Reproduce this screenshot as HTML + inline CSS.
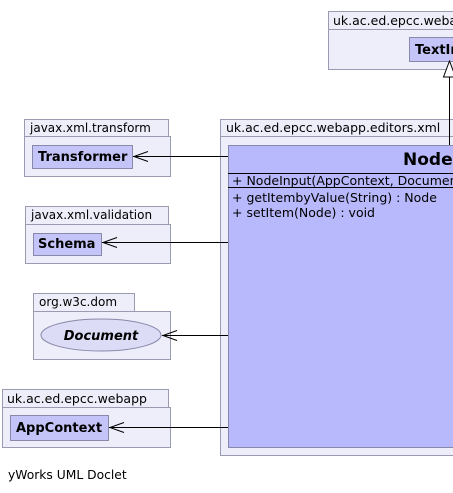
<!DOCTYPE html>
<html><head><meta charset="utf-8"><style>
html,body{margin:0;padding:0;background:#fff;width:453px;height:493px;overflow:hidden}
text{font-family:"DejaVu Sans","Liberation Sans",sans-serif;fill:#000}
</style></head><body>
<svg width="453" height="493" viewBox="0 0 453 493" xmlns="http://www.w3.org/2000/svg">
<g stroke="#9a9ab0" stroke-width="1" fill="#eeeefa">
<rect x="328.5" y="11.5" width="130" height="18"/>
<rect x="328.5" y="29.5" width="130" height="40"/>
<rect x="24.5" y="119.5" width="144" height="17"/>
<rect x="24.5" y="136.5" width="146" height="40"/>
<rect x="25.5" y="206.5" width="143" height="18"/>
<rect x="25.5" y="224.5" width="145" height="39"/>
<rect x="33.5" y="293.5" width="101" height="18"/>
<rect x="33.5" y="311.5" width="137" height="48"/>
<rect x="2.5" y="389.5" width="166" height="18"/>
<rect x="2.5" y="407.5" width="168" height="40"/>
<rect x="220.5" y="119.5" width="240" height="17"/>
<rect x="220.5" y="136.5" width="240" height="319"/>
</g>
<g stroke="#8888aa" fill="#c4c4f8">
<rect x="409.5" y="37.5" width="50" height="24"/>
<rect x="32.5" y="145.5" width="100" height="23"/>
<rect x="33.5" y="233.5" width="68" height="22"/>
<rect x="10.5" y="415.5" width="98" height="25"/>
<ellipse cx="101" cy="335" rx="60" ry="16" fill="#dcdcf6"/>
</g>
<rect x="228.5" y="145.5" width="232" height="302" fill="#b8b8fc" stroke="#8888aa"/>
<line x1="228" y1="173.5" x2="453" y2="173.5" stroke="#000"/>
<line x1="228" y1="187.5" x2="453" y2="187.5" stroke="#000"/>
<g stroke="#000" fill="none">
<line x1="449.5" y1="77" x2="449.5" y2="145"/>
<polygon points="449.5,61 443.5,77 455.5,77" fill="#fff"/>
<line x1="133" y1="156.5" x2="228" y2="156.5"/><polyline points="148,151.5 134,156.5 148,161.5"/>
<line x1="102" y1="242.5" x2="228" y2="242.5"/><polyline points="117,237.5 103,242.5 117,247.5"/>
<line x1="162" y1="335.5" x2="228" y2="335.5"/><polyline points="177,330.5 163,335.5 177,340.5"/>
<line x1="109" y1="427.5" x2="228" y2="427.5"/><polyline points="124,422.5 110,427.5 124,432.5"/>
</g>
<text x="333" y="25" font-size="12.5">uk.ac.ed.epcc.webapp</text>
<text x="415" y="54" font-size="13" font-weight="bold">TextInput</text>
<text x="30" y="132" font-size="12">javax.xml.transform</text>
<text x="38" y="161" font-size="13" font-weight="bold">Transformer</text>
<text x="31" y="219" font-size="12">javax.xml.validation</text>
<text x="38" y="248" font-size="13" font-weight="bold">Schema</text>
<text x="39" y="306" font-size="12">org.w3c.dom</text>
<text x="101" y="340" font-size="13" font-weight="bold" font-style="italic" text-anchor="middle">Document</text>
<text x="7" y="403" font-size="12.5">uk.ac.ed.epcc.webapp</text>
<text x="16" y="432" font-size="13" font-weight="bold">AppContext</text>
<text x="226" y="132" font-size="12.5">uk.ac.ed.epcc.webapp.editors.xml</text>
<text x="403" y="165" font-size="17" font-weight="bold">NodeInput</text>
<text x="232" y="185" font-size="12.5">+  NodeInput(AppContext, Document)</text>
<text x="232" y="202" font-size="12.5">+  getItembyValue(String) : Node</text>
<text x="232" y="217" font-size="12.5">+  setItem(Node) : void</text>
<text x="8" y="479" font-size="12.3">yWorks UML Doclet</text>
</svg>
</body></html>
